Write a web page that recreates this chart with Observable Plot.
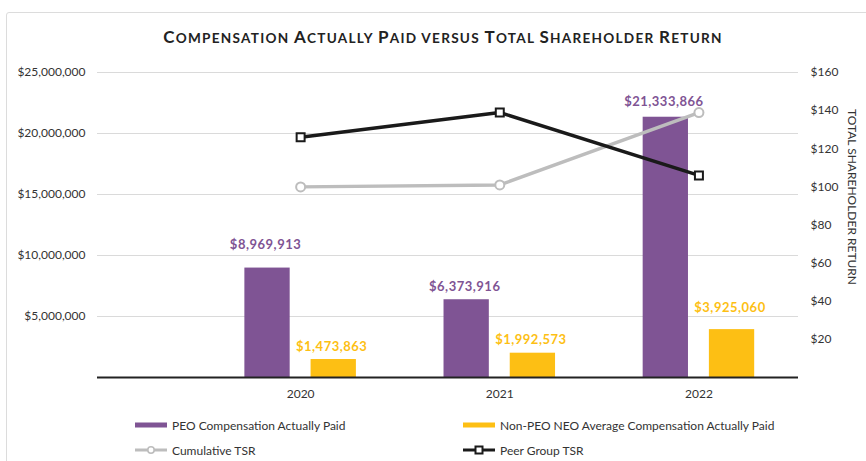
<!DOCTYPE html>
<html>
<head>
<meta charset="utf-8">
<script src="https://cdn.jsdelivr.net/npm/d3@7"></script>
<script src="https://cdn.jsdelivr.net/npm/@observablehq/plot@0.6"></script>
<style>
  html, body { margin: 0; padding: 0; background: #fff; }
  body { width: 866px; height: 461px; position: relative; overflow: hidden; font-family: Lato, "Open Sans", sans-serif; color: #333; }
  #frame { position: absolute; left: 6px; top: 12px; width: 900px; height: 500px; border: 1px solid #dcdcdc; border-radius: 3px; }
  #title { position: absolute; left: 0; width: 886px; top: 26px; text-align: center; font-size: 17px; font-weight: 700; color: #222; letter-spacing: 1.25px; white-space: nowrap; }
  #title .sc { font-size: 13.6px; }
  #chart { position: absolute; left: 0; top: 0; }
  #rtitle { position: absolute; left: 852px; top: 197px; transform: translate(-50%, -50%) rotate(90deg); white-space: nowrap; font-size: 12px; color: #333; }
  .leg { position: absolute; font-size: 12px; color: #333; white-space: nowrap; display: flex; align-items: center; }
  .leg svg { margin-right: 3px; }
</style>
</head>
<body>
<div id="frame"></div>
<div id="chart"></div>
<div id="title"></div>
<div id="rtitle">TOTAL SHAREHOLDER RETURN</div>
<div id="legend"></div>
<script>
// ---- data ----
const titleText = "Compensation Actually Paid versus Total Shareholder Return";
const years = [2020, 2021, 2022];
const peoCap = [8969913, 6373916, 21333866];
const neoCap = [1473863, 1992573, 3925060];
const cumulativeTsr = [100, 101, 139];
const peerTsr = [126, 139, 106];
const leftTicks = [5000000, 10000000, 15000000, 20000000, 25000000];
const rightTicks = [20, 40, 60, 80, 100, 120, 140, 160];
const seriesNames = ["PEO Compensation Actually Paid", "Non-PEO NEO Average Compensation Actually Paid", "Cumulative TSR", "Peer Group TSR"];

// ---- styles ----
const purple = "#7f5494";
const gold = "#fdbf14";
const grayLine = "#bdbdbd";
const black = "#1a1a1a";
const peoLift = [23, 13, 15];
const neoLift = [13, 13, 22];

// title in small caps (big initial capitals, smaller uppercase rest)
document.getElementById("title").innerHTML = Array.from(titleText).map(ch =>
  (ch !== " " && ch === ch.toUpperCase()) ? ch : `<span class="sc">${ch.toUpperCase()}</span>`
).join("");

const leftMax = 25000000, rightMax = 160;
const k = leftMax / rightMax;
const rows = years.map((y, i) => ({year: y, peo: peoCap[i], neo: neoCap[i], cum: cumulativeTsr[i] * k, peer: peerTsr[i] * k}));
const money = d => "$" + d3.format(",")(d);

const labelMarks = [];
rows.forEach((r, i) => {
  labelMarks.push(Plot.text([r], {x: d => d.year - 0.166, y: "peo", text: d => money(d.peo), dy: -peoLift[i], dx: -2,
    fill: purple, fontWeight: 700, fontSize: 13, lineAnchor: "middle"}));
  labelMarks.push(Plot.text([r], {x: d => d.year + 0.166, y: "neo", text: d => money(d.neo), dy: -neoLift[i], dx: -2,
    fill: gold, fontWeight: 700, fontSize: 13, lineAnchor: "middle"}));
});

const chart = Plot.plot({
  width: 866,
  height: 405,
  marginTop: 72,
  marginBottom: 28,
  marginLeft: 97,
  marginRight: 68,
  style: {fontFamily: "Lato, 'Open Sans', sans-serif", fontSize: "12px", color: "#333", background: "transparent", overflow: "visible"},
  x: {type: "linear", domain: [2018.98, 2022.5]},
  y: {domain: [0, leftMax]},
  marks: [
    Plot.ruleY(leftTicks, {stroke: "#dadada", strokeWidth: 1}),
    Plot.rect(rows, {x1: d => d.year - 0.28, x2: d => d.year - 0.0525, y1: d => 0, y2: "peo", fill: purple}),
    Plot.rect(rows, {x1: d => d.year + 0.0525, x2: d => d.year + 0.28, y1: d => 0, y2: "neo", fill: gold}),
    Plot.ruleY([0], {stroke: "#222", strokeWidth: 2}),
    Plot.axisY({ticks: leftTicks, tickSize: 0, tickPadding: 12, tickFormat: money, label: null}),
    Plot.axisY({anchor: "right", ticks: rightTicks.map(v => v * k), tickSize: 0, tickPadding: 12, tickFormat: d => "$" + Math.round(d / k), label: null}),
    Plot.axisX({ticks: years, tickSize: 0, tickPadding: 12, tickFormat: d => String(d), label: null}),
    Plot.line(rows, {x: "year", y: "cum", stroke: grayLine, strokeWidth: 3.5}),
    Plot.dot(rows, {x: "year", y: "cum", r: 4.5, fill: "white", stroke: grayLine, strokeWidth: 2}),
    Plot.line(rows, {x: "year", y: "peer", stroke: black, strokeWidth: 3.5}),
    Plot.dot(rows, {x: "year", y: "peer", symbol: "square", r: 4.5, fill: "white", stroke: black, strokeWidth: 2}),
    ...labelMarks
  ]
});
// slight letter spacing on the bold value labels
chart.querySelectorAll("g[font-weight='700'] text").forEach(t => { t.style.letterSpacing = "0.5px"; });
document.getElementById("chart").appendChild(chart);

// ---- legend ----
const legend = document.getElementById("legend");
const swatchBar = c => `<svg width="34" height="8"><rect x="0" y="1.5" width="32" height="5" fill="${c}"/></svg>`;
const swatchLine = (c, sym) => `<svg width="34" height="12"><line x1="0" x2="32" y1="6" y2="6" stroke="${c}" stroke-width="3"/>` +
  (sym === "circle" ? `<circle cx="16" cy="6" r="3.2" fill="white" stroke="${c}" stroke-width="1.6"/>`
                    : `<rect x="12.5" y="2.5" width="7" height="7" fill="white" stroke="${c}" stroke-width="2"/>`) + `</svg>`;
const items = [
  {x: 135, y: 425, sw: swatchBar(purple), t: seriesNames[0]},
  {x: 463, y: 425, sw: swatchBar(gold), t: seriesNames[1]},
  {x: 135, y: 450, sw: swatchLine(grayLine, "circle"), t: seriesNames[2]},
  {x: 463, y: 450, sw: swatchLine(black, "square"), t: seriesNames[3]}
];
items.forEach(it => {
  const d = document.createElement("div");
  d.className = "leg";
  d.style.left = it.x + "px";
  d.style.top = (it.y - 8) + "px";
  d.style.height = "16px";
  d.innerHTML = it.sw + `<span>${it.t}</span>`;
  legend.appendChild(d);
});
</script>
</body>
</html>
